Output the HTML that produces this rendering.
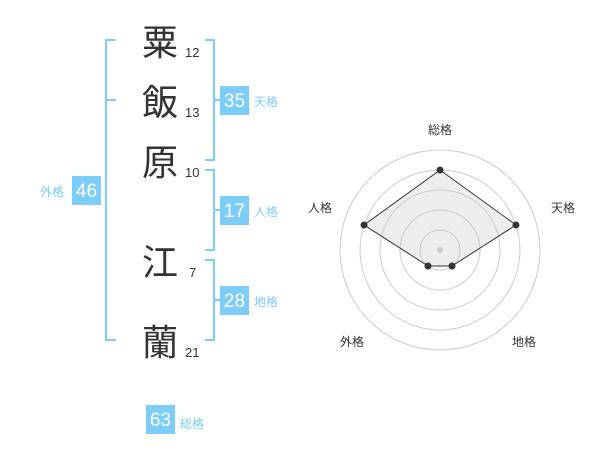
<!DOCTYPE html>
<html><head><meta charset="utf-8"><style>
html,body{margin:0;padding:0;background:#fff;}
svg{display:block;}
.k{font-family:"Liberation Sans","Noto Sans CJK JP",sans-serif;font-size:36px;fill:#333;}
.n{font-family:"Liberation Sans",sans-serif;font-size:13px;fill:#333;}
.b{font-family:"Liberation Sans",sans-serif;font-size:19px;fill:#fff;}
.l{font-family:"Liberation Sans","Noto Sans CJK JP",sans-serif;font-size:12px;fill:#7dcdf9;}
.r{font-family:"Liberation Sans","Noto Sans CJK JP",sans-serif;font-size:12px;fill:#333;}
</style></head><body>
<svg width="600" height="470" viewBox="0 0 600 470">
<g stroke="#7dcdf9" stroke-width="2" fill="none">
<polyline points="116,40 106,40 106,340 116,340"/>
<line x1="106" y1="100" x2="116" y2="100"/>
<polyline points="205,40 214,40 214,160 205,160"/>
<line x1="214" y1="100" x2="222" y2="100"/>
<polyline points="205,170 214,170 214,250 205,250"/>
<line x1="214" y1="210" x2="222" y2="210"/>
<polyline points="205,260 214,260 214,340 205,340"/>
<line x1="214" y1="300" x2="222" y2="300"/>
</g>
<text class="k" x="142" y="55">粟</text><text class="n" x="185" y="57">12</text>
<text class="k" x="142" y="115">飯</text><text class="n" x="185" y="117">13</text>
<text class="k" x="142" y="175">原</text><text class="n" x="185" y="177">10</text>
<text class="k" x="142" y="275">江</text><text class="n" x="189" y="277">7</text>
<text class="k" x="142" y="355">蘭</text><text class="n" x="185" y="357">21</text>
<g fill="#7dcdf9">
<rect x="220" y="86" width="29" height="29"/>
<rect x="220" y="196" width="29" height="29"/>
<rect x="220" y="286" width="29" height="29"/>
<rect x="72" y="176" width="29" height="29"/>
<rect x="146" y="405" width="29" height="29"/>
</g>
<text class="b" x="234.5" y="107" text-anchor="middle">35</text>
<text class="b" x="234.5" y="217" text-anchor="middle">17</text>
<text class="b" x="234.5" y="307" text-anchor="middle">28</text>
<text class="b" x="86.5" y="197" text-anchor="middle">46</text>
<text class="b" x="160.5" y="426" text-anchor="middle">63</text>
<text class="l" x="254" y="106">天格</text>
<text class="l" x="254" y="216">人格</text>
<text class="l" x="254" y="306">地格</text>
<text class="l" x="40" y="196">外格</text>
<text class="l" x="180" y="428">総格</text>
<g stroke="#ccc" fill="none" stroke-width="1">
<circle cx="440" cy="250" r="20"/><circle cx="440" cy="250" r="40"/><circle cx="440" cy="250" r="60"/><circle cx="440" cy="250" r="80"/><circle cx="440" cy="250" r="100"/>
</g>
<circle cx="440" cy="250" r="3" fill="#ccc"/>
<polygon points="440,170 516,225 452,266 428,266 364,225" fill="rgba(200,200,200,0.3)" stroke="#333" stroke-width="1"/>
<g fill="#333">
<circle cx="440" cy="170" r="3.5"/><circle cx="516" cy="225" r="3.5"/><circle cx="452" cy="266" r="3.5"/><circle cx="428" cy="266" r="3.5"/><circle cx="364" cy="225" r="3.5"/>
</g>
<text class="r" x="440" y="134" text-anchor="middle">総格</text>
<text class="r" x="563" y="212" text-anchor="middle">天格</text>
<text class="r" x="320" y="212" text-anchor="middle">人格</text>
<text class="r" x="352" y="346" text-anchor="middle">外格</text>
<text class="r" x="524" y="346" text-anchor="middle">地格</text>
</svg>
</body></html>
